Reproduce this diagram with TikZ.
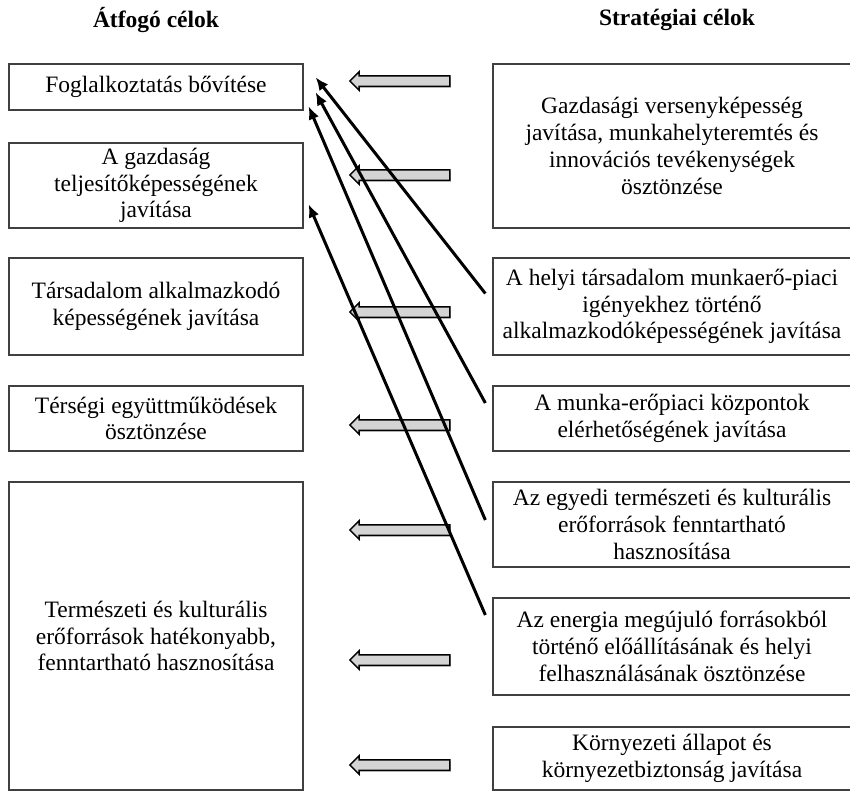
\documentclass[tikz,border=0pt]{standalone}
\usepackage{fontspec}
\setmainfont{Liberation Serif}
\usetikzlibrary{arrows.meta,shapes.arrows,shadows}
\begin{document}
\begin{tikzpicture}[x=1pt,y=-1pt,
	cel/.style={draw=black!75,line width=1.3pt,align=center,inner sep=0pt,font=\fontsize{23.5}{26.8}\selectfont},
	bal/.style={cel,minimum width=294pt},
	jobb/.style={cel,minimum width=358pt},
	cim/.style={font=\fontsize{23.5}{26.8}\selectfont\bfseries},
	nyil/.style={single arrow,shape border rotate=180,draw=black,line width=1.5pt,fill=black!17,minimum height=100pt,inner xsep=0pt,inner ysep=4.5pt,single arrow head extend=4pt,drop shadow={shadow xshift=1pt,shadow yshift=-1.5pt,opacity=0.4}},
	kapcs/.style={line width=3pt,-{Latex[length=13pt,width=11pt]}}]
	\useasboundingbox (0,0) rectangle (850,792);
	\node[cim] (cimbal) at (156,20) {Átfogó célok};
	\node[cim] (cimjobb) at (677,20) {Stratégiai célok};
	\node[bal,minimum height=46pt] (L1) at (156,87) {Foglalkoztatás bővítése};
	\node[bal,minimum height=85pt] (L2) at (156,185.5) {A gazdaság\\teljesítőképességének\\javítása};
	\node[bal,minimum height=97pt] (L3) at (156,306.5) {Társadalom alkalmazkodó\\képességének javítása};
	\node[bal,minimum height=65pt] (L4) at (156,418.5) {Térségi együttműködések\\ösztönzése};
	\node[bal,minimum height=308pt] (L5) at (156,636) {Természeti és kulturális\\erőforrások hatékonyabb,\\fenntartható hasznosítása};
	\node[jobb,minimum height=164pt] (R1) at (672,146) {Gazdasági versenyképesség\\javítása, munkahelyteremtés és\\innovációs tevékenységek\\ösztönzése};
	\node[jobb,minimum height=97pt] (R2) at (672,306.5) {A helyi társadalom munkaerő-piaci\\igényekhez történő\\alkalmazkodóképességének javítása};
	\node[jobb,minimum height=65pt] (R3) at (672,418.5) {A munka-erőpiaci központok\\elérhetőségének javítása};
	\node[jobb,minimum height=85pt] (R4) at (672,524.5) {Az egyedi természeti és kulturális\\erőforrások fenntartható\\hasznosítása};
	\node[jobb,minimum height=97pt] (R5) at (672,646.5) {Az energia megújuló forrásokból\\történő előállításának és helyi\\felhasználásának ösztönzése};
	\node[jobb,minimum height=63pt] (R6) at (672,758.5) {Környezeti állapot és\\környezetbiztonság javítása};
	\node[nyil] (h1) at (402.5,81) {};
	\node[nyil] (h2) at (402.5,175) {};
	\node[nyil] (h3) at (402.5,312) {};
	\node[nyil] (h4) at (402.5,425) {};
	\node[nyil] (h5) at (402.5,530) {};
	\node[nyil] (h6) at (402.5,660) {};
	\node[nyil] (h7) at (402.5,765) {};
	\draw[kapcs] ([xshift=-7pt,yshift=13pt]R2.west) -- ([xshift=12pt,yshift=-14pt]L1.north east);
	\draw[kapcs] ([xshift=-7pt,yshift=15.5pt]R3.west) -- ([xshift=12pt,yshift=-29pt]L1.north east);
	\draw[kapcs] ([xshift=-7pt,yshift=4.5pt]R4.west) -- ([xshift=5pt,yshift=-43pt]L1.north east);
	\draw[kapcs] ([xshift=-7pt,yshift=31.5pt]R5.west) -- ([xshift=5pt,yshift=-62pt]L2.north east);
\end{tikzpicture}
\end{document}
